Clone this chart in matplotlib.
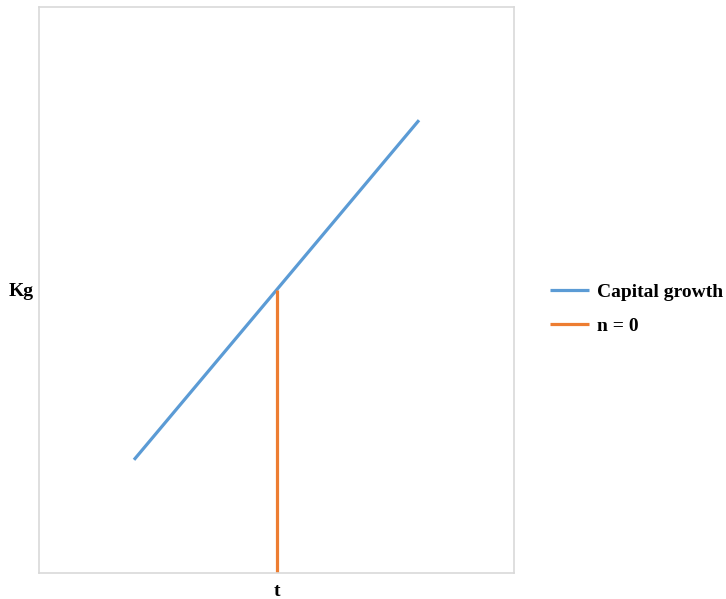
import matplotlib
matplotlib.use('Agg')
import matplotlib.pyplot as plt

# data
growth_t = [2, 8]
growth_k = [2, 8]
n0_t = [5, 5]
n0_k = [0, 5]
x_ticks = [5]
x_labels = ['t']
y_ticks = [5]
y_labels = ['Kg']

plt.rcParams['font.family'] = ['Liberation Serif', 'DejaVu Serif']
plt.rcParams['font.weight'] = 'bold'

fig = plt.figure(figsize=(7.26, 5.99), dpi=100)
ax = fig.add_axes([39/726, 1 - 573/599, 475/726, 566/599])

ax.plot(growth_t, growth_k, color='#5b9bd5', lw=2.3, label='Capital growth', solid_capstyle='butt')
ax.plot(n0_t, n0_k, color='#ed7d31', lw=2.3, label='n = 0', solid_capstyle='butt')

ax.set_xlim(0, 10)
ax.set_ylim(0, 10)
ax.set_xticks(x_ticks)
ax.set_xticklabels(x_labels, fontsize=14, fontweight='bold')
ax.set_yticks(y_ticks)
ax.set_yticklabels(y_labels, fontsize=14, fontweight='bold')
ax.tick_params(axis='y', length=0, pad=4)
ax.tick_params(axis='x', length=0, pad=7)
for s in ax.spines.values():
    s.set_color('#d9d9d9')
    s.set_linewidth(1.2)

fs = 14
leg = ax.legend(loc='center left', frameon=False, borderpad=0, borderaxespad=0,
                handlelength=38/19, handletextpad=0.4, labelspacing=0.85,
                prop={'weight': 'bold', 'size': fs})
leg.set_bbox_to_anchor((550/726, 1 - 309/599), transform=fig.transFigure)

fig.savefig('out.png', dpi=100)
